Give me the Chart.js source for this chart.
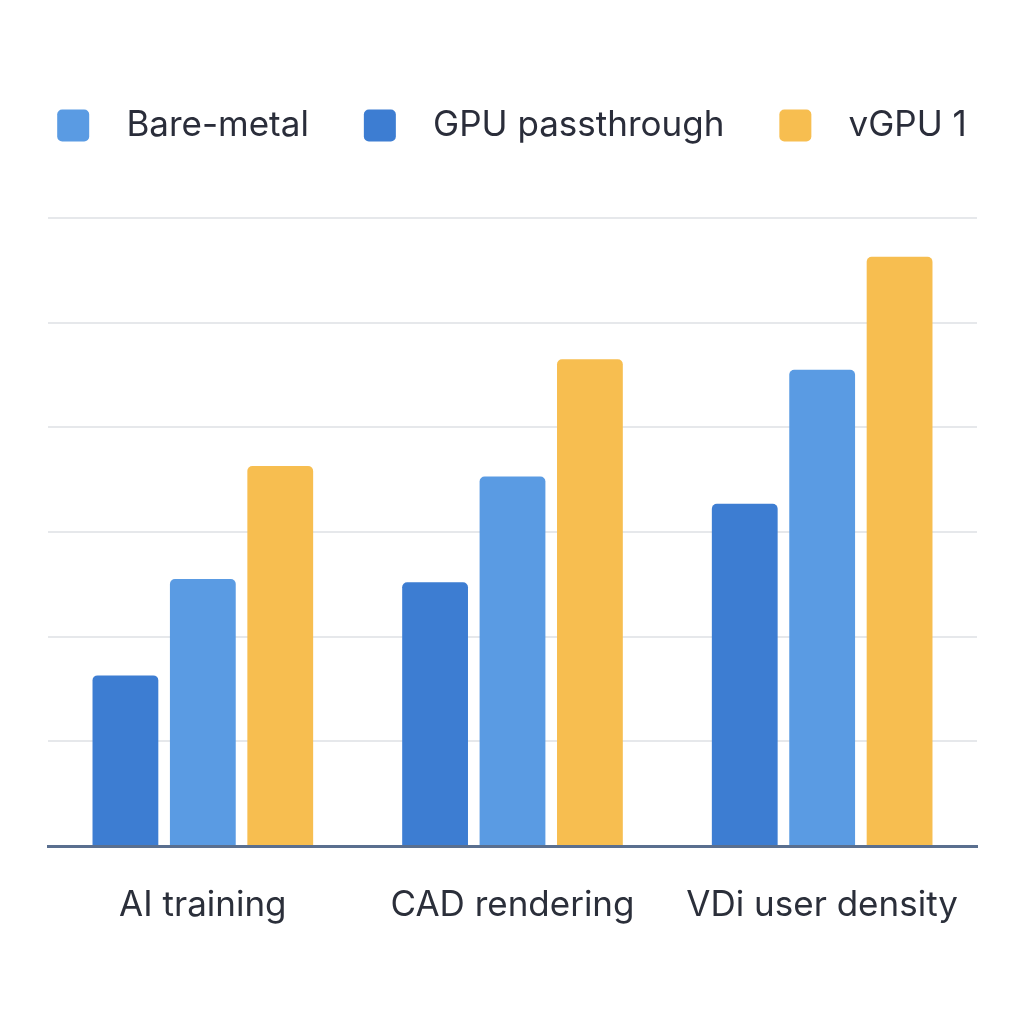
<!DOCTYPE html>
<html>
<head>
<meta charset="utf-8">
<script src="https://cdn.jsdelivr.net/npm/chart.js@4.4.1/dist/chart.umd.min.js"></script>
<style>
  html, body { margin: 0; padding: 0; background: #fff; }
  #wrap { width: 1024px; height: 1024px; }
</style>
</head>
<body>
<div id="wrap"><canvas id="myChart" width="1024" height="1024"></canvas></div>
<script>
// categories and series values
const categories = ["AI training", "CAD rendering", "VDi user density"];
const gpuPassthrough = [16.3, 25.2, 32.7];
const bareMetal = [25.5, 35.3, 45.5];
const vgpu1 = [36.3, 46.5, 56.3];
// legend shows Bare-metal first, even though bars go dark-blue first
const legendOrder = [1, 0, 2];

// leave room under the legend
const legendGap = {
  id: "legendGap",
  beforeInit(chart) {
    const fit = chart.legend.fit;
    chart.legend.fit = function () {
      fit.bind(chart.legend)();
      this.height += 65;
    };
  }
};

var ctx = document.getElementById("myChart").getContext("2d");

var myChart = new Chart(ctx, {
  type: "bar",
  data: {
    labels: categories,
    datasets: [
      { label: "GPU passthrough", data: gpuPassthrough, backgroundColor: "#3d7dd2" },
      { label: "Bare-metal", data: bareMetal, backgroundColor: "#5a9be3" },
      { label: "vGPU 1", data: vgpu1, backgroundColor: "#f7be50" }
    ]
  },
  options: {
    responsive: false,
    animation: false,
    datasets: {
      bar: {
        borderRadius: { topLeft: 5, topRight: 5 },
        borderSkipped: "bottom",
        categoryPercentage: 0.75,
        barPercentage: 0.85
      }
    },
    layout: { padding: { top: 53, left: 0, right: 0, bottom: 68 } },
    plugins: {
      legend: {
        position: "top",
        labels: {
          font: { family: "Inter", size: 35 },
          color: "#2a2d3a",
          boxWidth: 32,
          boxHeight: 32,
          padding: 55,
          useBorderRadius: true,
          borderRadius: 5,
          generateLabels(chart) {
            const items = Chart.defaults.plugins.legend.labels.generateLabels(chart);
            items.forEach(it => { it.text = "  " + it.text; it.lineWidth = 0; });
            return items;
          },
          sort: (a, b) => legendOrder.indexOf(a.datasetIndex) - legendOrder.indexOf(b.datasetIndex)
        }
      },
      tooltip: { enabled: false }
    },
    scales: {
      x: {
        grid: { display: false },
        border: { color: "#5a6f8f", width: 3 },
        ticks: { font: { family: "Inter", size: 35 }, color: "#2b2f3a", padding: 30 }
      },
      y: {
        min: 0,
        max: 60,
        ticks: { display: false, stepSize: 10 },
        border: { display: false },
        grid: {
          color: c => (c.tick.value === 0 ? "rgba(0,0,0,0)" : "#e6e8eb"),
          lineWidth: 2,
          drawTicks: false
        },
        afterFit: axis => { axis.width = 48; }
      },
      // empty axis on the right, only to keep the plot margin
      yRight: {
        position: "right",
        ticks: { display: false },
        grid: { display: false },
        border: { display: false },
        afterFit: axis => { axis.width = 47; }
      }
    }
  },
  plugins: [legendGap]
});
</script>
</body>
</html>
